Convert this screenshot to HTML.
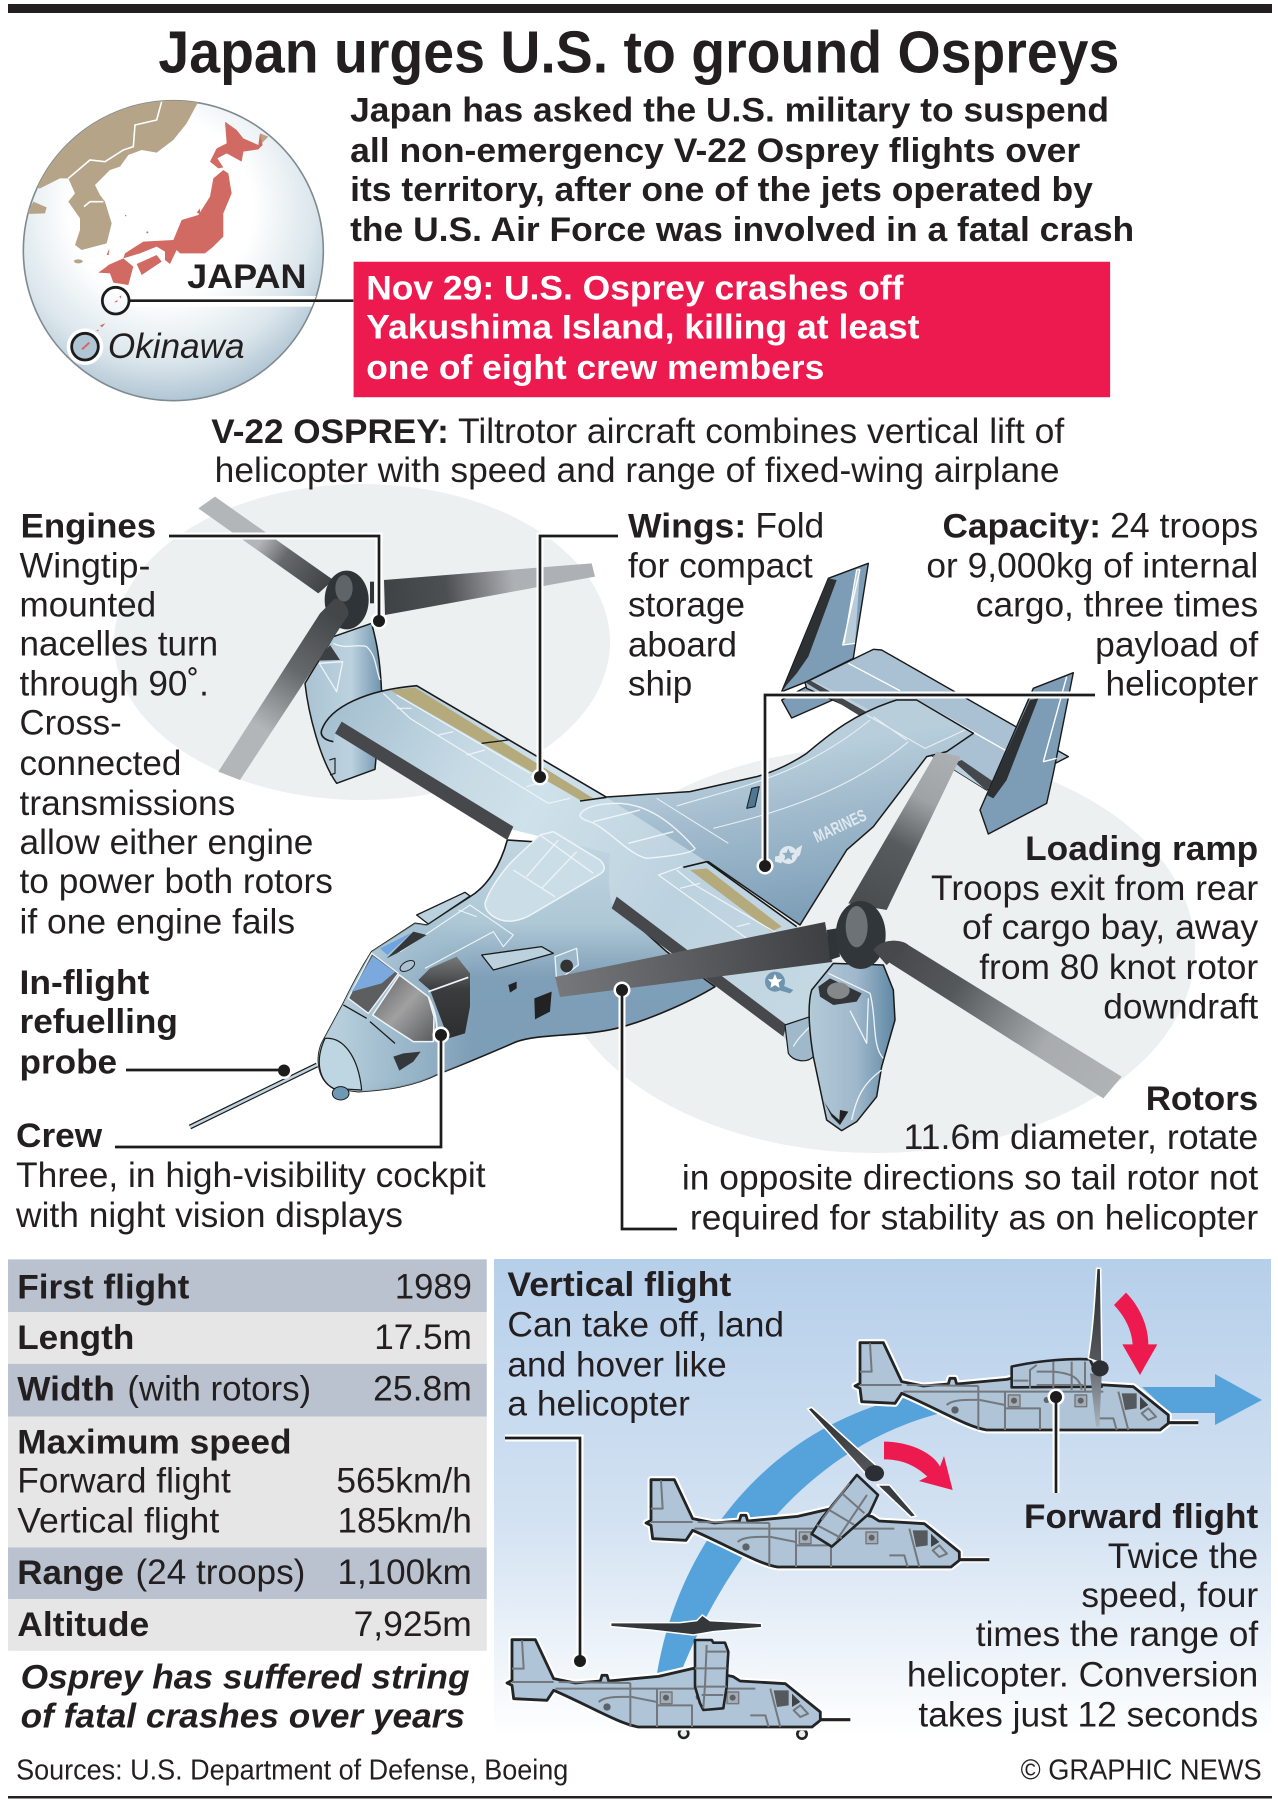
<!DOCTYPE html>
<html><head><meta charset="utf-8"><title>Japan urges U.S. to ground Ospreys</title>
<style>
html,body{margin:0;padding:0;background:#fff}
svg{display:block}
svg *{vector-effect:non-scaling-stroke}
text{font-family:"Liberation Sans",sans-serif;fill:#231f20;font-size:30.5px}
.b{font-weight:bold;font-size:30px}
.w{fill:#fff}
</style></head><body>
<svg xmlns="http://www.w3.org/2000/svg" width="1278" height="1800" viewBox="0 0 1278 1800">
<defs>
<radialGradient id="gl" cx=".46" cy=".36" r=".68"><stop offset="0" stop-color="#fff"/><stop offset=".45" stop-color="#fff"/><stop offset=".75" stop-color="#dbe6ec"/><stop offset="1" stop-color="#a4bccd"/></radialGradient>
<linearGradient id="pn" x1="0" y1="0" x2="0" y2="1"><stop offset="0" stop-color="#b6cfea"/><stop offset=".55" stop-color="#d3e2f2"/><stop offset="1" stop-color="#fff"/></linearGradient>
<clipPath id="gc"><circle cx="490" cy="482" r="450"/></clipPath>
<linearGradient id="bA" gradientUnits="userSpaceOnUse" x1="410" y1="320" x2="50" y2="70"><stop offset="0" stop-color="#3f4245"/><stop offset=".35" stop-color="#66696c"/><stop offset=".55" stop-color="#b3b6b9"/><stop offset="1" stop-color="#b3b6b9"/></linearGradient>
<linearGradient id="bB" gradientUnits="userSpaceOnUse" x1="580" y1="350" x2="1210" y2="270"><stop offset="0" stop-color="#3f4245"/><stop offset=".3" stop-color="#4d5053"/><stop offset=".62" stop-color="#adb0b4"/><stop offset="1" stop-color="#adb0b4"/></linearGradient>
<linearGradient id="bC" gradientUnits="userSpaceOnUse" x1="420" y1="400" x2="115" y2="885"><stop offset="0" stop-color="#44474a"/><stop offset=".35" stop-color="#66696c"/><stop offset=".7" stop-color="#b3b6b9"/><stop offset="1" stop-color="#b3b6b9"/></linearGradient>
<linearGradient id="bD" gradientUnits="userSpaceOnUse" x1="925" y1="580" x2="680" y2="1040"><stop offset="0" stop-color="#adb0b3"/><stop offset=".3" stop-color="#a0a3a6"/><stop offset=".6" stop-color="#585b5e"/><stop offset="1" stop-color="#4a4d50"/></linearGradient>
<linearGradient id="bE" gradientUnits="userSpaceOnUse" x1="825" y1="940" x2="555" y2="985"><stop offset="0" stop-color="#3e4043"/><stop offset="1" stop-color="#76787b"/></linearGradient>
<linearGradient id="bF" gradientUnits="userSpaceOnUse" x1="560" y1="290" x2="1240" y2="710"><stop offset="0" stop-color="#45474a"/><stop offset=".3" stop-color="#55585b"/><stop offset=".7" stop-color="#a9acaf"/><stop offset="1" stop-color="#b0b3b6"/></linearGradient>
<linearGradient id="fuse" x1="0" y1="0" x2="0" y2="1"><stop offset="0" stop-color="#c0d5e0"/><stop offset=".33" stop-color="#aec8d6"/><stop offset=".55" stop-color="#7f9fb8"/><stop offset=".95" stop-color="#7c9db6"/><stop offset="1" stop-color="#5f85a2"/></linearGradient>
<linearGradient id="noseov" gradientUnits="userSpaceOnUse" x1="120" y1="0" x2="520" y2="0"><stop offset="0" stop-color="#bcd4e0" stop-opacity=".9"/><stop offset=".6" stop-color="#a5c1d1" stop-opacity=".6"/><stop offset="1" stop-color="#a5c1d1" stop-opacity="0"/></linearGradient>
<linearGradient id="rear" gradientUnits="userSpaceOnUse" x1="520" y1="560" x2="600" y2="1040"><stop offset="0" stop-color="#b8cedb"/><stop offset=".4" stop-color="#a0bacc"/><stop offset="1" stop-color="#7fa0b9"/></linearGradient>
<linearGradient id="wing" gradientUnits="userSpaceOnUse" x1="80" y1="250" x2="1500" y2="1100"><stop offset="0" stop-color="#a5c0d0"/><stop offset=".25" stop-color="#c6dae5"/><stop offset=".4" stop-color="#cfe1ea"/><stop offset=".7" stop-color="#bcd2df"/><stop offset="1" stop-color="#c4d8e3"/></linearGradient>
<linearGradient id="nacL" x1="0" y1="0" x2="1" y2="0"><stop offset="0" stop-color="#aac2d2"/><stop offset=".6" stop-color="#bcd2df"/><stop offset="1" stop-color="#6f93ad"/></linearGradient>
<linearGradient id="nacR" x1="0" y1="0" x2="1" y2="0"><stop offset="0" stop-color="#b3cad8"/><stop offset=".55" stop-color="#9fb8cb"/><stop offset="1" stop-color="#5f88a5"/></linearGradient>
<linearGradient id="blk" x1="0" y1="0" x2="0" y2="1"><stop offset="0" stop-color="#77797b"/><stop offset=".4" stop-color="#3a3c3e"/><stop offset="1" stop-color="#2d2e30"/></linearGradient>
<linearGradient id="scr" x1="0" y1="0" x2="1" y2="1"><stop offset="0" stop-color="#5d5e60"/><stop offset=".5" stop-color="#a0a0a1"/><stop offset="1" stop-color="#5a5b5d"/></linearGradient>
<linearGradient id="bld" x1="0" y1="0" x2="0" y2="1"><stop offset="0" stop-color="#2b2d30"/><stop offset="1" stop-color="#55585c"/></linearGradient>
<linearGradient id="bld2" x1="0" y1="0" x2="0" y2="1"><stop offset="0" stop-color="#6c7178"/><stop offset="1" stop-color="#a9b3bd"/></linearGradient>
<path id="star" d="M0,-10 L2.9,-3.1 L9.5,-3.1 L4.7,1.2 L5.9,8.1 L0,4.5 L-5.9,8.1 L-4.7,1.2 L-9.5,-3.1 L-2.9,-3.1 Z"/>
<path id="fusP" d="M622,600 C600,680 560,740 510,770 L380,855 L345,850 L215,935 C180,990 160,1030 130,1090 L65,1210 C45,1260 55,1320 100,1345 L175,1355 C260,1350 340,1340 420,1300 C500,1270 580,1235 650,1205 C720,1180 850,1190 950,1165 C1050,1140 1180,1080 1245,1040 L1100,935 L950,800 L930,620 Z"/>
<path id="bp" d="M60,248 L130,248 L185,365 L250,378 L325,372 L330,355 L345,355 L350,372 L500,358 L604,334 L724,359 L744,372 L880,380 L985,465 L985,490 L960,510 L440,510 C380,500 300,450 185,400 L165,430 L65,425 L60,385 L45,378 L60,370 Z"/>
<g id="body">
<path d="M985,488 H1075" stroke="#fff" stroke-width="6"/>
<use href="#bp" fill="none" stroke="#fff" stroke-width="7" stroke-linejoin="round"/>
<path d="M985,488 H1075" stroke="#222" stroke-width="3.2"/>
<use href="#bp" fill="#afc4d6" stroke="#222426" stroke-width="2.8" stroke-linejoin="round"/>
<g fill="none" stroke="#74787d" stroke-width="2">
<path d="M90,250 L95,335 L60,335 M60,375 H185 M190,395 H790 M200,375 L415,378"/>
<path d="M415,378 V510 M495,395 V510 M320,435 C340,415 400,420 420,420 L495,435 M495,445 H600 V510 M835,395 L865,510 M775,475 H820 L830,510"/>
<path d="M905,460 L925,445 L948,470 L925,480 Z"/>
</g>
<path d="M845,400 H890 V445 L855,450 Z" fill="#55585c"/>
<path d="M900,410 L925,435 L900,450 Z" fill="#404346"/>
<g fill="#a4adb6" stroke="#74787d" stroke-width="1.4"><rect x="505" y="405" width="35" height="35"/><rect x="705" y="405" width="35" height="35"/></g>
<g fill="#5d6267"><circle cx="522" cy="422" r="9"/><circle cx="722" cy="422" r="9"/><circle cx="345" cy="450" r="11"/><circle cx="620" cy="420" r="9"/></g>
</g>
</defs>

<rect x="8" y="4" width="1264" height="9" fill="#231f20"/>
<rect x="8" y="1796" width="1264" height="2.5" fill="#231f20"/>

<g transform="translate(10,90) scale(.33333)">
<circle cx="490" cy="482" r="450" fill="url(#gl)" stroke="#7f8a90" stroke-width="1.6"/>
<g clip-path="url(#gc)">
<path d="M565,20 L565,35 L530,100 L490,150 L440,188 L395,180 L355,195 L330,230 L300,240 L255,285 L270,315 L285,335 L305,400 L290,460 L215,480 L195,465 L210,420 L210,385 L175,335 L195,310 L175,265 L150,265 L90,295 L20,290 L20,20 Z" fill="#b5a488"/>
<path d="M70,335 L110,352 L105,370 L50,372 Z" fill="#b5a488"/>
<ellipse cx="205" cy="514" rx="13" ry="6" fill="#b5a488"/>
<path d="M750,130 L775,140 L755,160 Z" fill="#b5a488"/>
<path d="M455,35 L440,90 L375,105 L370,170 L340,180 L285,215 L240,210 L175,265 M222,350 L240,335 L280,335" fill="none" stroke="#fff" stroke-width="1.6"/>
<g fill="#d16a63">
<path d="M645,95 L680,120 L700,145 L745,165 L750,130 L758,165 L745,178 L700,185 L695,215 L650,190 L622,205 L640,232 L625,235 L600,215 L620,175 L650,160 Z"/>
<path d="M640,240 L655,250 L665,310 L640,370 L640,440 L610,470 L585,490 L510,490 L500,480 L480,522 L465,510 L465,485 L440,470 L390,490 L340,505 L345,490 L400,455 L490,450 L515,390 L565,375 L600,320 L610,265 Z"/>
<path d="M380,522 L440,495 L455,515 L395,555 Z"/>
<path d="M295,525 L340,505 L370,530 L355,585 L310,578 L300,550 L265,548 L290,530 Z"/>
<path d="M560,368 L570,355 L570,372 Z M290,495 L298,475 L296,495 Z"/>
<circle cx="347" cy="377" r="2"/><circle cx="412" cy="427" r="3"/>
<path d="M312,637 L322,630 L322,636 Z M328,620 L334,616 L332,626 Z"/>
<path d="M258,724 L264,718 L266,722 Z M270,706 L286,700 L276,712 Z"/>
</g>
</g>
<path d="M360,618 H918 L905,650 H360 Z" fill="#fff"/>
<circle cx="225" cy="770" r="55" fill="#fff"/>
<circle cx="225" cy="770" r="40" fill="#b0c6d5" stroke="#1c1c1c" stroke-width="2.8"/>
<path d="M216,778 L238,758" stroke="#d16a63" stroke-width="2"/>
<circle cx="317" cy="632" r="40" fill="none" stroke="#1c1c1c" stroke-width="2.8"/>
<path d="M358,632 H1030" stroke="#1c1c1c" stroke-width="2.6"/>
</g>

<ellipse cx="362" cy="642" rx="248" ry="158" fill="#ecf0f1"/>
<ellipse cx="875" cy="950" rx="320" ry="203" fill="#ecf0f1"/>

<g stroke-linejoin="round">
<g transform="translate(640,560) scale(.33333)">
<path d="M425,420 L455,474 L578,420 L500,380 Z" fill="#7d9cb6" stroke="#1a1a1a" stroke-width="1.4"/>
<path d="M685,10 L565,55 L425,395 L500,365 L640,295 L645,262 Z" fill="#7d9cb6" stroke="#1a1a1a" stroke-width="1.4"/>
<path d="M565,55 L590,60 L505,290 L470,340 L440,375 L428,392 Z" fill="#2e3134"/>
<path d="M660,28 L608,255 L645,250 M660,28 L650,30 L612,250" fill="#b8cbd8" stroke="#fff" stroke-width="1.3"/>
<path d="M495,368 L700,268 L725,270 L1285,590 L1250,608 L1040,690 L680,465 L500,385 Z" fill="#a9c1d2" stroke="#1a1a1a" stroke-width="1.4"/>
<path d="M500,368 L680,465 L1040,690 L1055,665 L945,600 L680,445 L520,362 Z" fill="#bdd1dd"/>
<path d="M625,310 L780,392 M830,420 L1130,590" stroke="#fff" stroke-width="1.3" fill="none"/>
<path d="M497,368 L512,362 L690,462 L660,468 Z M945,608 L965,600 L1060,665 L1040,692 Z" fill="#44484c"/>
<path d="M1300,338 L1180,385 L1020,750 L1045,822 L1220,730 L1240,640 Z" fill="#7d9cb6" stroke="#1a1a1a" stroke-width="1.4"/>
<path d="M1195,415 L1170,420 L1040,705 L1060,715 L1100,660 Z" fill="#2e3134"/>
<path d="M1280,350 L1210,605 L1250,595" fill="none" stroke="#fff" stroke-width="1.4"/>
<path d="M-100,711 L150,695 L350,650 C420,630 470,600 500,580 C560,530 640,460 770,420 L830,420 L1000,520 L920,575 L860,590 L700,800 L620,870 L480,1095 L205,905 L100,930 L-100,800 Z" fill="url(#rear)" stroke="#1a1a1a" stroke-width="1.5"/>
<g fill="none" stroke="#e7eff4" stroke-width="1.1">
<path d="M110,738 C300,680 480,650 690,480 M220,805 C400,760 620,700 805,545 M50,715 L265,850 M680,465 L855,565 L975,510 M700,470 L800,540"/>
</g>
<path d="M335,685 L358,680 L345,740 L320,745 Z" fill="#4e7891" stroke="#1a1a1a" stroke-width="1"/>
<path d="M470,865 L487,855 L480,885 L455,905 Z M405,890 L425,885 L425,910 L405,905 Z" fill="#dfe8ee"/>
<circle cx="445" cy="885" r="27" fill="#dfe8ee"/>
<use href="#star" transform="translate(445,885) scale(2)" fill="#8fadc3"/>
</g>

<g transform="translate(190,480) scale(.33333)">
<path d="M430,470 L345,610 C355,700 390,840 440,910 L555,868 L575,640 C570,520 555,470 545,430 Z" fill="url(#nacL)" stroke="#1a1a1a" stroke-width="1.5"/>
<path d="M388,550 L440,635 L458,545 Z M430,490 C470,510 500,490 530,500 C560,530 555,560 570,600" fill="none" stroke="#f0f5f8" stroke-width="1.3"/>
<path d="M382,542 L420,495 L450,540 Z" fill="#3c4044"/>
<path d="M418,840 L435,835 L435,880 L420,885" fill="none" stroke="#222" stroke-width="1.2"/>
</g>

<g transform="translate(300,640) scale(.33333)">
<use href="#fusP" fill="url(#fuse)" stroke="#1a1a1a" stroke-width="1.6"/>
<use href="#fusP" fill="url(#noseov)"/>
<path d="M350,825 L495,757 L510,768 L385,852 Z" fill="#bcd1de" stroke="#1a1a1a" stroke-width="1.3"/>
<path d="M65,270 C90,200 200,150 350,137 L920,472 L1220,665 L1490,860 L1600,960 L1500,1260 L1450,1190 L935,790 C925,750 925,700 930,640 L640,570 L110,265 L100,305 C70,300 60,285 65,270 Z" fill="url(#wing)"/>
<path d="M100,305 C70,300 60,285 65,270 C90,200 200,150 350,137 L920,472 M1150,682 L1220,665 L1490,860 M840,483 L920,472" fill="none" stroke="#1a1a1a" stroke-width="1.6"/>
<path d="M270,150 L345,143 L880,475 L840,480 Z" fill="#b4aa7c"/>
<path d="M1170,690 L1220,685 L1445,860 L1415,875 Z" fill="#b4aa7c"/>
<path d="M125,245 L640,560 L622,600 L105,280 Z" fill="#46484b"/>
<path d="M950,770 L1460,1155 L1450,1190 L935,805 Z" fill="#46484b"/>
<path d="M545,310 L625,300" stroke="#1a1a1a" stroke-width="1.3"/>
<g fill="none" stroke="#eef4f7" stroke-width="1.2">
<path d="M250,160 L330,235 L745,490 L810,475 M290,205 L335,205 M415,285 L460,275 M500,345 L555,330 M680,440 L730,425 M290,165 L520,300 L690,400"/>
<path d="M1075,705 L1145,680 M1075,705 L1340,895 M1130,690 L1185,735 L1440,885 M1140,745 L1200,730 M1310,860 L1350,850"/>
</g>
<path d="M555,790 C570,740 620,680 640,660 L720,585 L760,575 L900,660 C920,680 915,695 895,705 L700,820 C660,845 620,850 590,835 C570,825 555,810 555,790 Z" fill="#cbdee8" stroke="#eef4f7" stroke-width="1.5"/>
<path d="M640,690 L765,770 M720,585 L880,700 M680,710 L775,600 M725,745 L830,635" fill="none" stroke="#eef4f7" stroke-width="1.3"/>
<path d="M840,525 C850,500 900,490 960,490 C1040,495 1110,540 1185,625 C1180,640 1100,650 1040,655 C980,640 930,570 870,545 C855,540 840,535 840,525 Z M880,545 L1020,510 M985,610 L1120,575" fill="none" stroke="#eef4f7" stroke-width="1.4"/>
<path d="M300,935 L510,795 L640,885 L610,920 L580,875 L375,985 M475,810 L530,830" fill="none" stroke="#eef4f7" stroke-width="1.1"/>
<path d="M260,955 L340,875 L380,885 L290,940 Z" fill="#33373a"/>
<path d="M240,925 L335,878 L262,945 Z" fill="#6fa4e0"/>
<path d="M355,1020 L390,985 L470,950 L510,1000 L510,1100 L495,1180 L445,1195 L390,1050 Z" fill="url(#blk)"/>
<path d="M385,1055 L505,1012" stroke="#eef4f7" stroke-width="1.7"/>
<path d="M215,940 L295,1000 L205,1120 L145,1075 Z" fill="#5d5e60" stroke="#eef4f7" stroke-width="1.3"/>
<path d="M218,948 L285,996 L245,1030 L155,1055 Z" fill="#7ba9de"/>
<path d="M298,1005 L345,1040 L385,1070 L402,1130 L400,1205 L340,1205 L270,1160 L218,1125 Z" fill="url(#scr)" stroke="#eef4f7" stroke-width="1.5"/>
<path d="M385,1070 C405,1110 415,1150 410,1200" fill="none" stroke="#eef4f7" stroke-width="1.7"/>
<ellipse cx="322" cy="978" rx="24" ry="13" transform="rotate(-30 322 978)" fill="#a9c1d2" stroke="#222" stroke-width="1"/>
<path d="M75,1195 C130,1190 175,1250 185,1350 L100,1345 C55,1320 45,1260 75,1195 Z" fill="#bed6e2" stroke="#1a1a1a" stroke-width="1.2"/>
<path d="M210,1145 L285,1210 M130,1095 L200,1135" stroke="#1a1a1a" stroke-width="1.3"/>
<path d="M280,1250 L310,1240 L362,1235 L340,1265 L298,1292 Z" fill="#35383a"/>
<ellipse cx="122" cy="1360" rx="25" ry="20" fill="#6f98b4" stroke="#1a1a1a" stroke-width="1"/>
<path d="M545,945 L725,920 L760,940 L580,990 Z" fill="#bcd1de" stroke="#1a1a1a" stroke-width="1.3"/>
<path d="M765,950 L830,925 L835,975 L770,1025 Z" fill="#9cb8ca" stroke="#eef4f7" stroke-width="1.3"/>
<circle cx="800" cy="978" r="19" fill="#333"/>
<path d="M703,1075 L755,1055 L750,1115 L705,1138 Z" fill="#222"/>
<path d="M625,1035 L650,1025 L650,1045 L630,1058 Z" fill="#222"/>
</g>
<path d="M317,1065 L190,1127" stroke="#1a1a1a" stroke-width="5"/>
<path d="M317,1065 L190,1127" stroke="#bfd4e0" stroke-width="2.6"/>

<g transform="translate(640,560) scale(.33333)">
<path d="M425,1275 L460,1290 L450,1300 L415,1290 Z" fill="#6f94ae"/>
<circle cx="405" cy="1265" r="30" fill="#6f94ae"/>
<use href="#star" transform="translate(405,1265) scale(2.3)" fill="#fff"/>
<path d="M890,575 L962,590 L740,1050 L625,1030 Z" fill="url(#bD)"/>
</g>
<path d="M555,977 L825,922 L832,962 L560,997 Z" fill="url(#bE)" />
<g transform="translate(700,850) scale(.33333)">
<path d="M255,525 L265,610 C280,635 320,640 340,620 L330,500 Z" fill="#9fb9cb" stroke="#1a1a1a" stroke-width="1.2"/>
<path d="M280,590 C290,570 310,550 330,530" fill="none" stroke="#eef4f7" stroke-width="1.2"/>
<path d="M400,340 L335,420 C320,470 330,560 340,620 L380,810 L425,842 L470,815 L530,740 L545,650 L585,510 L580,420 L550,345 Z" fill="url(#nacR)" stroke="#1a1a1a" stroke-width="1.5"/>
<path d="M355,410 L390,385 L485,430 L470,455 L400,465 L360,440 Z" fill="#333639"/>
<ellipse cx="415" cy="422" rx="34" ry="25" fill="#85888b"/>
<path d="M450,482 L500,580 L505,445 M385,370 L510,430 C530,500 515,590 550,625 M545,660 C490,700 470,740 455,810" fill="none" stroke="#f0f5f8" stroke-width="1.3"/>
<path d="M372,755 L395,800 L420,825 L445,785 L420,780 L418,810 L395,790 Z" fill="#222"/>
<path d="M380,240 L410,235 L420,320 L390,330 Z" fill="#2f3438"/>
<path d="M520,300 C540,268 600,265 625,285 L1265,680 L1210,745 L540,320 Z" fill="url(#bF)"/>
<ellipse cx="482" cy="255" rx="75" ry="102" fill="#30363a"/>
<ellipse cx="470" cy="230" rx="33" ry="62" fill="#6d7276"/>
<path d="M520,300 C540,268 600,265 625,285 L560,345 Z" fill="#46484b"/>
</g>

<g transform="translate(190,480) scale(.33333)">
<path d="M75,50 L25,85 L385,340 L430,300 Z" fill="url(#bA)"/>
<path d="M540,305 L552,305 L552,370 L540,370 Z" fill="#2f3438"/>
<path d="M582,300 L1205,250 L1215,290 L585,405 Z" fill="url(#bB)"/>
<ellipse cx="470" cy="360" rx="66" ry="88" fill="#2f3438"/>
<ellipse cx="462" cy="325" rx="26" ry="40" fill="#5f6468"/>
<path d="M430,360 C445,345 480,380 475,405 L150,900 L85,875 L390,400 Z" fill="url(#bC)"/>
</g>
</g>

<rect x="494" y="1259" width="777" height="478" fill="url(#pn)"/>
<path d="M657,1673 C680,1540 770,1430 903,1398 L945,1412 C830,1440 740,1530 683,1667 Z" fill="#56a3db"/>
<path d="M1142,1387 H1215 V1374 L1262,1400 L1215,1425 V1413 H1170 Z" fill="#56a3db"/>

<g stroke-linejoin="round">
<g transform="translate(840,1260) scale(.33333)">
<path d="M822,135 L858,98 C900,140 925,200 925,253 L952,253 L900,345 L847,253 L878,253 C875,210 855,170 822,135 Z" fill="#ed1a4f"/>
<path d="M132,545 C210,545 280,580 300,620 L312,588 L338,690 L237,663 L262,650 C230,620 190,598 132,598 Z" fill="#ed1a4f"/>
<use href="#body"/>
<path d="M515,320 C600,300 700,295 750,298 L785,380 L515,382 Z" fill="#afc4d6" stroke="#222426" stroke-width="2.6"/>
<path d="M640,305 V390 M695,305 V390 M735,305 V395 M590,315 L570,330 V385 M520,362 H565 M590,335 H640 C690,340 720,350 725,390 M590,375 H730" fill="none" stroke="#74787d" stroke-width="2"/>
<path d="M750,340 L785,345 L778,500 L768,500 Z" fill="url(#bld2)"/>
<path d="M770,25 L782,25 L786,310 L745,295 C760,200 765,100 770,25 Z" fill="url(#bld)" stroke="#fff" stroke-width="1.6"/>
<ellipse cx="780" cy="325" rx="26" ry="24" fill="#2b2f33"/>
</g>

<use href="#body" transform="translate(631,1397) scale(.33333)"/>
<g transform="translate(490,1250) scale(.5026,.3333)">
<path d="M730,675 L772,735 L755,790 L680,890 L640,852 L660,805 Z" fill="#afc4d6" stroke="#222426" stroke-width="2.6"/>
<path d="M700,730 L745,790 M675,780 L725,825 M650,825 L700,865 M715,700 L660,810 M750,735 L690,870" fill="none" stroke="#74787d" stroke-width="2"/>
<path d="M632,477 L640,472 L782,665 L750,675 Z" fill="url(#bld)" stroke="#fff" stroke-width="1.6"/>
<path d="M770,705 L795,705 L848,798 L838,802 Z" fill="#383b3f" stroke="#fff" stroke-width="1.6"/>
<ellipse cx="765" cy="670" rx="19" ry="24" fill="#2b2f33"/>
</g>

<g transform="translate(500,1590) scale(.33333)">
<path d="M870,418 H925 M925,405 C930,420 950,415 945,395" fill="none" stroke="#222" stroke-width="2.4"/>
<circle cx="551" cy="430" r="14" fill="#e8eef4" stroke="#222" stroke-width="2.6"/>
<circle cx="906" cy="432" r="14" fill="#e8eef4" stroke="#222" stroke-width="2.6"/>
<use href="#body" transform="translate(-24,-99)"/>
<path d="M585,235 L585,150 L635,150 L640,158 L675,158 L685,185 L682,235 L680,290 L670,355 L610,360 L600,340 L585,290 Z" fill="#afc4d6" stroke="#222426" stroke-width="2.6"/>
<path d="M620,165 L615,285 L610,355 M585,235 H680 M590,290 H680 M605,315 H670 M620,185 H680" fill="none" stroke="#74787d" stroke-width="2"/>
<path d="M332,98 L540,98 L590,92 L607,75 L630,92 L785,100 L785,113 L640,125 L610,130 L580,135 L450,120 L332,110 Z" fill="#35383b" stroke="#fff" stroke-width="1.5"/>
</g>
</g>

<g fill="none" stroke="#fff" stroke-width="7" stroke-linejoin="miter">
<path d="M169,536 H379 V620"/><path d="M618,536 H540 V776"/><path d="M1095,695 H765 V865"/>
<path d="M115,1147 H441 V1035"/><path d="M126,1070 H284"/><path d="M677,1229 H622 V990"/>
<path d="M505,1438 H580 V1661"/><path d="M1056,1397 V1493"/>
</g>
<g fill="#fff"><circle cx="379" cy="621" r="8.5"/><circle cx="540" cy="777" r="8.5"/><circle cx="765" cy="866" r="8.5"/><circle cx="441" cy="1035" r="8.5"/><circle cx="622" cy="990" r="8.5"/><circle cx="284" cy="1070.5" r="8.5"/><circle cx="580" cy="1661" r="8.5"/><circle cx="1056" cy="1397" r="8.5"/></g>
<g fill="none" stroke="#1c1c1c" stroke-width="2.7">
<path d="M169,536 H379 V620"/><path d="M618,536 H540 V776"/><path d="M1095,695 H765 V865"/>
<path d="M115,1147 H441 V1035"/><path d="M126,1070 H284"/><path d="M677,1229 H622 V990"/>
<path d="M505,1438 H580 V1661"/><path d="M1056,1397 V1493"/>
</g>
<g fill="#1c1c1c"><circle cx="379" cy="621" r="6"/><circle cx="540" cy="777" r="6"/><circle cx="765" cy="866" r="6"/><circle cx="441" cy="1035" r="6"/><circle cx="622" cy="990" r="6"/><circle cx="284" cy="1070.5" r="6"/><circle cx="580" cy="1661" r="6"/><circle cx="1056" cy="1397" r="6"/></g>

<text transform="translate(817,843) rotate(-25)" x="0" y="0" textLength="56" lengthAdjust="spacingAndGlyphs" font-weight="bold" style="font-size:17px;fill:#dfe9ef">MARINES</text>

<g transform="scale(1.148)">
<rect x="308" y="228" width="659" height="118" fill="#ed1a4f"/>

<text class="b" x="138" y="63" textLength="837" lengthAdjust="spacingAndGlyphs" style="font-size:52px">Japan urges U.S. to ground Ospreys</text>
<text class="b" x="305" y="106" textLength="661" lengthAdjust="spacingAndGlyphs">Japan has asked the U.S. military to suspend</text>
<text class="b" x="305" y="141" textLength="636" lengthAdjust="spacingAndGlyphs">all non-emergency V-22 Osprey flights over</text>
<text class="b" x="305" y="175" textLength="647" lengthAdjust="spacingAndGlyphs">its territory, after one of the jets operated by</text>
<text class="b" x="305" y="210" textLength="683" lengthAdjust="spacingAndGlyphs">the U.S. Air Force was involved in a fatal crash</text>
<text class="b" x="163" y="251" textLength="104" lengthAdjust="spacingAndGlyphs">JAPAN</text>
<text class="b w" x="319" y="261" textLength="468" lengthAdjust="spacingAndGlyphs">Nov 29: U.S. Osprey crashes off</text>
<text class="b w" x="319" y="295" textLength="482" lengthAdjust="spacingAndGlyphs">Yakushima Island, killing at least</text>
<text class="b w" x="319" y="330" textLength="399" lengthAdjust="spacingAndGlyphs">one of eight crew members</text>
<text x="94" y="312" textLength="119" lengthAdjust="spacingAndGlyphs" font-style="italic">Okinawa</text>

<text class="b" x="184" y="386" textLength="207" lengthAdjust="spacingAndGlyphs">V-22 OSPREY:</text>
<text x="399" y="386" textLength="528" lengthAdjust="spacingAndGlyphs">Tiltrotor aircraft combines vertical lift of</text>
<text x="187" y="420" textLength="736" lengthAdjust="spacingAndGlyphs">helicopter with speed and range of fixed-wing airplane</text>

<text class="b" x="18" y="468" textLength="118" lengthAdjust="spacingAndGlyphs">Engines</text>
<text x="17" y="503" textLength="114" lengthAdjust="spacingAndGlyphs">Wingtip-</text>
<text x="17" y="537" textLength="119" lengthAdjust="spacingAndGlyphs">mounted</text>
<text x="17" y="571" textLength="173" lengthAdjust="spacingAndGlyphs">nacelles turn</text>
<text x="17" y="606" textLength="165" lengthAdjust="spacingAndGlyphs">through 90˚.</text>
<text x="17" y="640" textLength="89" lengthAdjust="spacingAndGlyphs">Cross-</text>
<text x="17" y="675" textLength="141" lengthAdjust="spacingAndGlyphs">connected</text>
<text x="17" y="710" textLength="188" lengthAdjust="spacingAndGlyphs">transmissions</text>
<text x="17" y="744" textLength="256" lengthAdjust="spacingAndGlyphs">allow either engine</text>
<text x="17" y="778" textLength="273" lengthAdjust="spacingAndGlyphs">to power both rotors</text>
<text x="17" y="813" textLength="240" lengthAdjust="spacingAndGlyphs">if one engine fails</text>

<text class="b" x="17" y="866" textLength="113" lengthAdjust="spacingAndGlyphs">In-flight</text>
<text class="b" x="17" y="900" textLength="138" lengthAdjust="spacingAndGlyphs">refuelling</text>
<text class="b" x="17" y="935" textLength="85" lengthAdjust="spacingAndGlyphs">probe</text>
<text class="b" x="14" y="999" textLength="75" lengthAdjust="spacingAndGlyphs">Crew</text>
<text x="14" y="1034" textLength="409" lengthAdjust="spacingAndGlyphs">Three, in high-visibility cockpit</text>
<text x="14" y="1069" textLength="337" lengthAdjust="spacingAndGlyphs">with night vision displays</text>

<text class="b" x="547" y="468" textLength="103" lengthAdjust="spacingAndGlyphs">Wings:</text>
<text x="658" y="468" textLength="60" lengthAdjust="spacingAndGlyphs">Fold</text>
<text x="547" y="503" textLength="161" lengthAdjust="spacingAndGlyphs">for compact</text>
<text x="547" y="537" textLength="102" lengthAdjust="spacingAndGlyphs">storage</text>
<text x="547" y="572" textLength="95" lengthAdjust="spacingAndGlyphs">aboard</text>
<text x="547" y="606" textLength="56" lengthAdjust="spacingAndGlyphs">ship</text>

<text class="b" x="821" y="468" textLength="138" lengthAdjust="spacingAndGlyphs">Capacity:</text>
<text x="967" y="468" textLength="129" lengthAdjust="spacingAndGlyphs">24 troops</text>
<text x="807" y="503" textLength="289" lengthAdjust="spacingAndGlyphs">or 9,000kg of internal</text>
<text x="850" y="537" textLength="246" lengthAdjust="spacingAndGlyphs">cargo, three times</text>
<text x="954" y="572" textLength="142" lengthAdjust="spacingAndGlyphs">payload of</text>
<text x="963" y="606" textLength="133" lengthAdjust="spacingAndGlyphs">helicopter</text>

<text class="b" x="893" y="749" textLength="203" lengthAdjust="spacingAndGlyphs">Loading ramp</text>
<text x="811" y="784" textLength="285" lengthAdjust="spacingAndGlyphs">Troops exit from rear</text>
<text x="838" y="818" textLength="258" lengthAdjust="spacingAndGlyphs">of cargo bay, away</text>
<text x="853" y="853" textLength="243" lengthAdjust="spacingAndGlyphs">from 80 knot rotor</text>
<text x="961" y="887" textLength="135" lengthAdjust="spacingAndGlyphs">downdraft</text>

<text class="b" x="998" y="967" textLength="98" lengthAdjust="spacingAndGlyphs">Rotors</text>
<text x="787" y="1001" textLength="309" lengthAdjust="spacingAndGlyphs">11.6m diameter, rotate</text>
<text x="594" y="1036" textLength="502" lengthAdjust="spacingAndGlyphs">in opposite directions so tail rotor not</text>
<text x="601" y="1071" textLength="495" lengthAdjust="spacingAndGlyphs">required for stability as on helicopter</text>

<rect x="7" y="1097" width="417" height="46" fill="#b9c2ce"/>
<rect x="7" y="1143" width="417" height="45" fill="#e6e6e6"/>
<rect x="7" y="1188" width="417" height="46" fill="#b9c2ce"/>
<rect x="7" y="1234" width="417" height="114" fill="#e6e6e6"/>
<rect x="7" y="1348" width="417" height="45" fill="#b9c2ce"/>
<rect x="7" y="1393" width="417" height="45" fill="#e6e6e6"/>
<text class="b" x="15" y="1131" textLength="150" lengthAdjust="spacingAndGlyphs">First flight</text>
<text x="344" y="1131" textLength="67" lengthAdjust="spacingAndGlyphs">1989</text>
<text class="b" x="15" y="1175" textLength="102" lengthAdjust="spacingAndGlyphs">Length</text>
<text x="326" y="1175" textLength="85" lengthAdjust="spacingAndGlyphs">17.5m</text>
<text class="b" x="15" y="1220" textLength="85" lengthAdjust="spacingAndGlyphs">Width</text>
<text x="111" y="1220" textLength="160" lengthAdjust="spacingAndGlyphs">(with rotors)</text>
<text x="325" y="1220" textLength="86" lengthAdjust="spacingAndGlyphs">25.8m</text>
<text class="b" x="15" y="1266" textLength="239" lengthAdjust="spacingAndGlyphs">Maximum speed</text>
<text x="15" y="1300" textLength="186" lengthAdjust="spacingAndGlyphs">Forward flight</text>
<text x="293" y="1300" textLength="118" lengthAdjust="spacingAndGlyphs">565km/h</text>
<text x="15" y="1335" textLength="176" lengthAdjust="spacingAndGlyphs">Vertical flight</text>
<text x="294" y="1335" textLength="117" lengthAdjust="spacingAndGlyphs">185km/h</text>
<text class="b" x="15" y="1380" textLength="93" lengthAdjust="spacingAndGlyphs">Range</text>
<text x="118" y="1380" textLength="148" lengthAdjust="spacingAndGlyphs">(24 troops)</text>
<text x="294" y="1380" textLength="117" lengthAdjust="spacingAndGlyphs">1,100km</text>
<text class="b" x="15" y="1425" textLength="115" lengthAdjust="spacingAndGlyphs">Altitude</text>
<text x="308" y="1425" textLength="103" lengthAdjust="spacingAndGlyphs">7,925m</text>
<text class="b" font-style="italic" x="18" y="1471" textLength="391" lengthAdjust="spacingAndGlyphs">Osprey has suffered string</text>
<text class="b" font-style="italic" x="18" y="1505" textLength="387" lengthAdjust="spacingAndGlyphs">of fatal crashes over years</text>
<text x="14" y="1550" textLength="481" lengthAdjust="spacingAndGlyphs" style="font-size:25px">Sources: U.S. Department of Defense, Boeing</text>
<text x="889" y="1550" textLength="210" lengthAdjust="spacingAndGlyphs" style="font-size:25px">© GRAPHIC NEWS</text>

<text class="b" x="442" y="1129" textLength="195" lengthAdjust="spacingAndGlyphs">Vertical flight</text>
<text x="442" y="1164" textLength="241" lengthAdjust="spacingAndGlyphs">Can take off, land</text>
<text x="442" y="1199" textLength="191" lengthAdjust="spacingAndGlyphs">and hover like</text>
<text x="442" y="1233" textLength="159" lengthAdjust="spacingAndGlyphs">a helicopter</text>
<text class="b" x="892" y="1331" textLength="204" lengthAdjust="spacingAndGlyphs">Forward flight</text>
<text x="965" y="1366" textLength="131" lengthAdjust="spacingAndGlyphs">Twice the</text>
<text x="942" y="1400" textLength="154" lengthAdjust="spacingAndGlyphs">speed, four</text>
<text x="850" y="1434" textLength="246" lengthAdjust="spacingAndGlyphs">times the range of</text>
<text x="790" y="1469" textLength="306" lengthAdjust="spacingAndGlyphs">helicopter. Conversion</text>
<text x="800" y="1504" textLength="296" lengthAdjust="spacingAndGlyphs">takes just 12 seconds</text>
</g>
</svg>
</body></html>
